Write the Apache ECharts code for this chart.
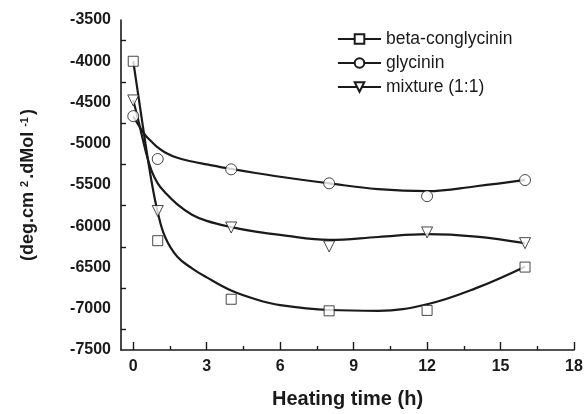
<!DOCTYPE html>
<html>
<head>
<meta charset="utf-8">
<script src="https://cdn.jsdelivr.net/npm/echarts@6/dist/echarts.min.js"></script>
<style>
  html, body { margin: 0; padding: 0; background: #fff; }
  #chart { width: 587px; height: 414px; }
</style>
</head>
<body>
<div id="chart"></div>
<script>
// measured points
const timeH = [0, 1, 4, 8, 12, 16]
const betaPts = [-4000, -6175, -6885, -7025, -7020, -6495]
const glyPts = [-4665, -5185, -5310, -5480, -5635, -5440]
const mixPts = [-4475, -5815, -6015, -6245, -6075, -6205]

// fitted curves
const fitX = [0, 0.25, 0.5, 0.75, 1, 1.3, 1.8, 2.4, 3, 4, 5, 6, 8, 10, 12, 14, 16]
const betaFit = [-4000, -4500, -5000, -5460, -5830, -6130, -6370, -6510, -6620, -6780, -6885, -6955, -7015, -7025, -6945, -6750, -6490]
const glyFit = [-4670, -4790, -4900, -4975, -5045, -5105, -5170, -5215, -5250, -5305, -5355, -5400, -5480, -5550, -5575, -5515, -5438]
const mixFit = [-4470, -4770, -5080, -5330, -5480, -5590, -5735, -5860, -5935, -6010, -6065, -6105, -6165, -6130, -6095, -6125, -6205]

const names = ['beta-conglycinin', 'glycinin', 'mixture (1:1)']
const xMajor = [0, 3, 6, 9, 12, 15, 18]
const xMinor = [1.5, 4.5, 7.5, 10.5, 13.5, 16.5]
const yMinor = [-7250, -6750, -6250, -5750, -5250, -4750, -4250, -3750]

const ink = '#1a1a1a'
const pair = (xs, ys) => xs.map((x, i) => [x, ys[i]])

const markers = [
  { symbol: 'rect', size: 10, rotate: 0 },
  { symbol: 'circle', size: 11, rotate: 0 },
  { symbol: 'triangle', size: 11, rotate: 180 }
]

function curve(name, ys, m) {
  return {
    name,
    type: 'line',
    data: pair(fitX, ys),
    smooth: 0.4,
    showSymbol: false,
    symbol: m.symbol,
    symbolRotate: m.rotate,
    lineStyle: { color: ink, width: 2.2 },
    itemStyle: { color: '#fff', borderColor: ink, borderWidth: 1 },
    silent: true,
    z: 2
  }
}

function points(name, ys, m) {
  return {
    name,
    type: 'scatter',
    data: pair(timeH, ys),
    symbol: m.symbol,
    symbolSize: m.size,
    symbolRotate: m.rotate,
    itemStyle: { color: '#fff', borderColor: ink, borderWidth: 1 },
    z: 3
  }
}

const chart = echarts.init(document.getElementById('chart'))

chart.setOption({
  animation: false,
  backgroundColor: '#fff',
  textStyle: { fontFamily: 'Liberation Sans, Arial, sans-serif', color: ink },
  legend: {
    data: names,
    orient: 'vertical',
    left: 332,
    top: 25,
    itemWidth: 43,
    itemHeight: 12,
    itemGap: 6,
    textStyle: { fontSize: 17.5, color: ink, fontFamily: 'Liberation Sans, Arial, sans-serif' },
    selectedMode: false
  },
  grid: { left: 121, right: 13, top: 20, bottom: 60 },
  xAxis: [
    {
      type: 'value',
      min: -0.5,
      max: 18,
      name: 'Heating time (h)',
      nameLocation: 'middle',
      nameGap: 39,
      nameTextStyle: { fontSize: 20, fontWeight: 'bold', color: ink },
      axisLine: { onZero: false, lineStyle: { color: ink, width: 1.6 } },
      axisTick: { inside: true, length: 8, customValues: xMajor, lineStyle: { color: ink, width: 1.4 } },
      axisLabel: { customValues: xMajor, fontSize: 16, fontWeight: 'bold', color: ink, margin: 9 },
      splitLine: { show: false }
    },
    {
      type: 'value',
      position: 'bottom',
      min: -0.5,
      max: 18,
      axisLine: { show: false },
      axisTick: { inside: true, length: 4, customValues: xMinor, lineStyle: { color: ink, width: 1.4 } },
      axisLabel: { show: false },
      splitLine: { show: false }
    }
  ],
  yAxis: [
    {
      type: 'value',
      min: -7500,
      max: -3500,
      interval: 500,
      name: '(deg.cm{s|2}.dMol{s|-1})',
      nameLocation: 'middle',
      nameGap: 84,
      nameRotate: 90,
      nameTextStyle: {
        fontSize: 18,
        fontWeight: 'bold',
        color: ink,
        rich: { s: { fontSize: 11, fontWeight: 'bold', color: ink, verticalAlign: 'top', padding: [0, 2, 0, 5] } }
      },
      axisLine: { onZero: false, lineStyle: { color: ink, width: 1.6 } },
      axisTick: { inside: true, length: 5, customValues: yMinor, lineStyle: { color: ink, width: 1.4 } },
      axisLabel: { fontSize: 16, fontWeight: 'bold', color: ink, margin: 10, formatter: (v) => String(v) },
      splitLine: { show: false }
    }
  ],
  series: [
    curve(names[0], betaFit, markers[0]),
    curve(names[1], glyFit, markers[1]),
    curve(names[2], mixFit, markers[2]),
    points(names[0], betaPts, markers[0]),
    points(names[1], glyPts, markers[1]),
    points(names[2], mixPts, markers[2])
  ]
})
</script>
</body>
</html>
